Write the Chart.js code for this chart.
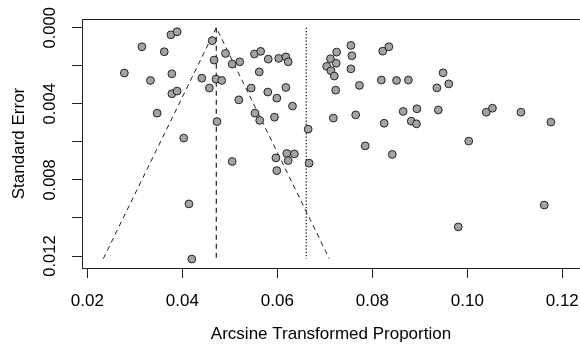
<!DOCTYPE html>
<html>
<head>
<meta charset="utf-8">
<script src="https://cdn.jsdelivr.net/npm/chart.js@4/dist/chart.umd.min.js"></script>
<style>
  html, body { margin: 0; padding: 0; background: #fff; }
  #wrap { width: 580px; height: 348px; }
</style>
</head>
<body>
<div id="wrap"><canvas id="funnel"></canvas></div>
<script>
// study estimates (arcsine transformed proportion) and their standard errors
const estimates = [
  0.0376, 0.0389, 0.0315, 0.0362, 0.0463, 0.0491, 0.0467, 0.0505, 0.0521, 0.0552,
  0.0565, 0.0581, 0.0603, 0.0618, 0.0623, 0.0278, 0.0333, 0.0378, 0.0441, 0.0471,
  0.0483, 0.0562, 0.0457, 0.0378, 0.0389, 0.0545, 0.0519, 0.0580, 0.0599, 0.0618,
  0.0632, 0.0347, 0.0553, 0.0563, 0.0594, 0.0473, 0.0665, 0.0403,
  0.0755, 0.0822, 0.0835, 0.0725, 0.0757, 0.0712, 0.0724, 0.0704, 0.0713, 0.0720,
  0.0755, 0.0723, 0.0773, 0.0819, 0.0851, 0.0876, 0.0949, 0.0961, 0.0936, 0.0865,
  0.0894, 0.0882, 0.0893, 0.0939, 0.0718, 0.0765, 0.0825, 0.1040, 0.1053, 0.1113,
  0.1176, 0.1003,
  0.0620, 0.0636, 0.0597, 0.0623, 0.0505, 0.0599, 0.0667, 0.0414, 0.0420,
  0.0785, 0.0842, 0.1162, 0.0981
];
const stdErrors = [
  0.00037, 0.00021, 0.00100, 0.00126, 0.00068, 0.00135, 0.00170, 0.00191, 0.00179, 0.00138,
  0.00124, 0.00165, 0.00161, 0.00153, 0.00179, 0.00238, 0.00277, 0.00242, 0.00265, 0.00270,
  0.00277, 0.00232, 0.00317, 0.00347, 0.00333, 0.00317, 0.00379, 0.00338, 0.00370, 0.00314,
  0.00412, 0.00449, 0.00449, 0.00487, 0.00470, 0.00493, 0.00533, 0.00580,
  0.00093, 0.00123, 0.00100, 0.00128, 0.00147, 0.00163, 0.00187, 0.00203, 0.00226, 0.00254,
  0.00216, 0.00328, 0.00303, 0.00275, 0.00277, 0.00275, 0.00237, 0.00295, 0.00316, 0.00440,
  0.00426, 0.00491, 0.00505, 0.00432, 0.00475, 0.00458, 0.00502, 0.00444, 0.00423, 0.00444,
  0.00496, 0.00596,
  0.00661, 0.00663, 0.00684, 0.00698, 0.00703, 0.00751, 0.00712, 0.00926, 0.01216,
  0.00621, 0.00666, 0.00932, 0.01047
];

// pooled estimate, funnel limits and reference line
const pooled = 0.04716;
const refLine = 0.0661;
const maxSE = 0.01214;
const funnelX = [pooled - 1.96 * maxSE, pooled, pooled + 1.96 * maxSE];
const funnelY = [maxSE, 0, maxSE];

// tick values
const xTicks = [0.02, 0.04, 0.06, 0.08, 0.10, 0.12];
const yTicks = [0, 0.002, 0.004, 0.006, 0.008, 0.010, 0.012];
const yLabelled = [0, 0.004, 0.008, 0.012];

const FONT = "'Liberation Sans', Arial, sans-serif";
const INK = '#222';

const points = estimates.map((x, i) => ({ x: x, y: stdErrors[i] }));

// box top edge, rotated y labels and y title (R style)
const rPlotExtras = {
  id: 'rPlotExtras',
  afterDraw(chart) {
    const ctx = chart.ctx;
    const area = chart.chartArea;
    const yScale = chart.scales.y;
    ctx.save();
    ctx.strokeStyle = INK;
    ctx.lineWidth = 1;
    ctx.beginPath();
    ctx.moveTo(area.left, Math.round(area.top) + 0.5);
    ctx.lineTo(area.right, Math.round(area.top) + 0.5);
    ctx.stroke();

    ctx.fillStyle = '#000';
    ctx.font = '16.5px ' + FONT;
    ctx.textAlign = 'center';
    ctx.textBaseline = 'middle';
    yLabelled.forEach(v => {
      const py = yScale.getPixelForValue(v);
      ctx.save();
      ctx.translate(50, py);
      ctx.rotate(-Math.PI / 2);
      ctx.fillText(v.toFixed(3), 0, 0);
      ctx.restore();
    });

    ctx.font = '17px ' + FONT;
    ctx.save();
    ctx.translate(19, (area.top + area.bottom) / 2);
    ctx.rotate(-Math.PI / 2);
    ctx.fillText('Standard Error', 0, 0);
    ctx.restore();
    ctx.restore();
  }
};

new Chart(document.getElementById('funnel'), {
  type: 'scatter',
  data: {
    datasets: [
      {
        type: 'line',
        data: funnelX.map((x, i) => ({ x: x, y: funnelY[i] })),
        borderColor: INK,
        borderWidth: 1,
        borderDash: [5, 4],
        pointRadius: 0,
        fill: false,
        order: 2
      },
      {
        type: 'line',
        data: [{ x: pooled, y: 0 }, { x: pooled, y: maxSE }],
        borderColor: INK,
        borderWidth: 1.2,
        borderDash: [5, 4],
        pointRadius: 0,
        fill: false,
        order: 2
      },
      {
        type: 'line',
        data: [{ x: refLine, y: 0 }, { x: refLine, y: maxSE }],
        borderColor: '#000',
        borderWidth: 1.2,
        borderDash: [1.2, 2],
        pointRadius: 0,
        fill: false,
        order: 2
      },
      {
        data: points,
        pointRadius: 3.9,
        pointBackgroundColor: '#a3a3a3',
        pointBorderColor: INK,
        pointBorderWidth: 1,
        order: 1
      }
    ]
  },
  options: {
    responsive: true,
    maintainAspectRatio: false,
    animation: false,
    layout: { autoPadding: false, padding: { top: 19, left: 0, right: 0, bottom: 0 } },
    plugins: {
      legend: { display: false },
      tooltip: { enabled: false }
    },
    scales: {
      x: {
        type: 'linear',
        min: 0.018884,
        max: 0.12373,
        afterBuildTicks: s => { s.ticks = xTicks.map(v => ({ value: v })); },
        afterFit: s => {
          s.height = 80;
          s.paddingLeft = 0;
          s.paddingRight = 0;
        },
        grid: { drawOnChartArea: false, drawTicks: true, tickLength: 10, color: INK },
        border: { display: true, color: INK, width: 1 },
        ticks: {
          color: '#000',
          font: { family: FONT, size: 17 },
          padding: 13,
          maxRotation: 0,
          callback: v => v.toFixed(2)
        },
        title: {
          display: true,
          text: 'Arcsine Transformed Proportion',
          color: '#000',
          font: { family: FONT, size: 17 },
          padding: { top: 4, bottom: 3 }
        }
      },
      y: {
        type: 'linear',
        reverse: true,
        min: -0.00046,
        max: 0.01263,
        afterBuildTicks: s => { s.ticks = yTicks.map(v => ({ value: v })); },
        afterFit: s => {
          s.width = 82;
          s.paddingTop = 0;
          s.paddingBottom = 0;
        },
        grid: { drawOnChartArea: false, drawTicks: true, tickLength: 10, color: INK },
        border: { display: true, color: INK, width: 1 },
        ticks: { display: true, callback: () => '', font: { size: 1 } }
      }
    }
  },
  plugins: [rPlotExtras]
});
</script>
</body>
</html>
